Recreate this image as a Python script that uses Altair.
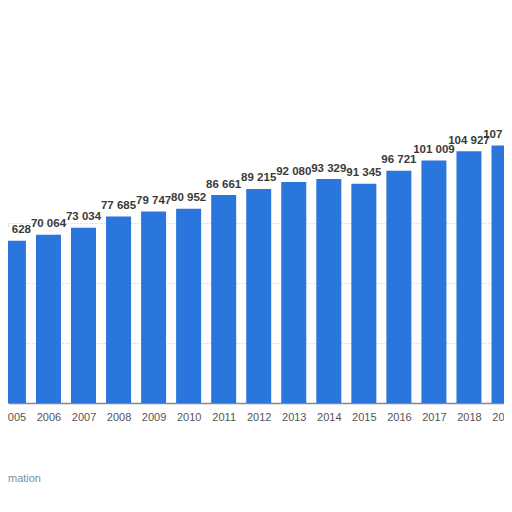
import altair as alt
import pandas as pd

years = [2005, 2006, 2007, 2008, 2009, 2010, 2011, 2012, 2013, 2014, 2015, 2016, 2017, 2018, 2019]
values = [67628, 70064, 73034, 77685, 79747, 80952, 86661, 89215, 92080, 93329, 91345, 96721, 101009, 104927, 107244]
grid_values = [25000, 50000, 75000]

df = pd.DataFrame({"year": years, "value": values})
df["label"] = [f"{v:,}".replace(",", " ") for v in values]

x_scale = alt.Scale(domain=[2004.845, 2019.0], nice=False, zero=False, padding=0)
y_scale = alt.Scale(domain=[0, 164583], nice=False, padding=0)

x_axis = alt.Axis(values=years, format="d", title=None, grid=False, ticks=False,
                  labelFlush=False, labelOverlap=False, labelBound=False, labelPadding=8,
                  labelFont="Liberation Sans", labelFontSize=11, labelColor="#555555",
                  domainColor="#888888", domainWidth=1.5)
y_axis = alt.Axis(values=grid_values, title=None, labels=False, ticks=False, domain=False,
                  grid=True, gridColor="#c8c8c8", gridDash=[1, 2], gridWidth=1)

base = alt.Chart(df)

bars = base.mark_bar(size=25, color="#2a76dc", clip=True).encode(
    x=alt.X("year:Q", scale=x_scale, axis=x_axis),
    y=alt.Y("value:Q", scale=y_scale, axis=y_axis),
)

labels = base.mark_text(font="Liberation Sans", fontWeight="bold", fontSize=11.5,
                        color="#3a3a3a", baseline="alphabetic", dy=-7.5).encode(
    x=alt.X("year:Q", scale=x_scale, axis=x_axis),
    y=alt.Y("value:Q", scale=y_scale, axis=y_axis),
    text="label:N",
)

note = alt.Chart(pd.DataFrame({"t": ["Additional Information"]})).mark_text(
    align="right", baseline="middle", font="Liberation Sans", fontSize=11, color="#7d8fa3"
).encode(x=alt.value(33), y=alt.value(471), text="t:N")

chart = alt.layer(bars, labels, note).properties(
    width=496, height=395,
    autosize=alt.AutoSizeParams(type="none"),
    padding={"left": 0, "top": 0, "right": 0, "bottom": 100},
).configure_view(stroke=None)

chart.save("out.html", embed_options={"renderer": "svg", "actions": False})
